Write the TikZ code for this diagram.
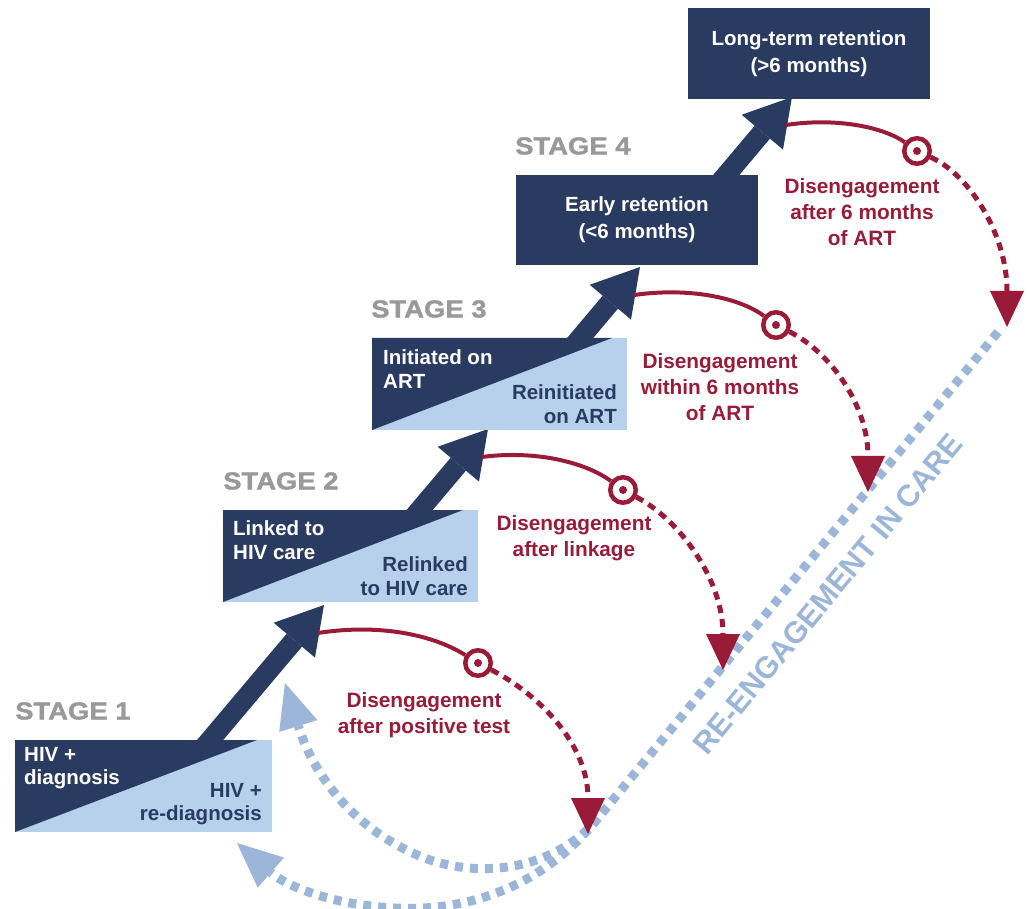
\documentclass[tikz,border=0pt]{standalone}
\usepackage{fontspec}
\setmainfont{Liberation Sans}
\newfontfamily\stagefont[FakeStretch=1.12,FakeBold=1.6]{Liberation Sans}
\usetikzlibrary{arrows.meta,calc}
\definecolor{navy}{HTML}{2A3B62}
\definecolor{lightbox}{HTML}{B7D0EC}
\definecolor{dred}{HTML}{9A1B38}
\definecolor{stagegray}{HTML}{999999}
\definecolor{reblue}{HTML}{9BB6D9}
\tikzset{
  navyarrow/.style={draw=navy, line width=20pt, -{Triangle[length=46pt,width=54pt,line width=0pt]}},
  splitbox/.style={fill=lightbox, inner sep=0pt, outer sep=0pt, anchor=north west},
  darkbox/.style={fill=navy, text=white, inner sep=0pt, outer sep=0pt, anchor=north west, align=center,
    font=\fontsize{20.5}{27}\selectfont\bfseries},
  whitetxt/.style={text=white, inner sep=0pt, align=left, anchor=west, font=\fontsize{20.5}{23.5}\selectfont\bfseries},
  navytxt/.style={text=navy, inner sep=0pt, align=right, anchor=east, font=\fontsize{20.5}{23.5}\selectfont\bfseries},
  stagelbl/.style={text=stagegray, inner sep=0pt, anchor=west, font=\fontsize{24.5}{28}\selectfont\stagefont\bfseries},
  redtxt/.style={text=dred, inner sep=0pt, align=center, font=\fontsize{20.8}{26}\selectfont\bfseries},
  ring/.style={circle, draw=dred, line width=4.5pt, fill=white, minimum size=25.5pt, inner sep=0pt},
  solidred/.style={draw=dred, line width=4pt},
  dashred/.style={draw=dred, line width=5pt, dash pattern=on 8pt off 6pt,
    -{Triangle[length=36pt,width=34pt,line width=0pt]}},
  bluedot/.style={draw=reblue, line width=9pt, dash pattern=on 8pt off 7pt},
  bluetip/.style={bluedot, -{Triangle[length=45pt,width=40pt,line width=0pt]}},
  bluetxt/.style={text=reblue, inner sep=0pt, font=\fontsize{30.5}{34}\selectfont\bfseries}
}
\begin{document}
\begin{tikzpicture}[x=1pt,y=-1pt]
\useasboundingbox (0,0) rectangle (1029,909);

% ---- re-engagement dotted paths ----
\coordinate (rtop) at (998,332);
\coordinate (rjoin) at (598,818);
\coordinate (rtip1) at (237,843);
\coordinate (rtip2) at (285,683);
\draw[bluedot] (rtop) -- (rjoin);
\draw[bluetip] (rjoin) .. controls (545,885) and (470,912) .. (395,908)
               .. controls (330,905) and (285,885) .. (rtip1);
\draw[bluetip] (rjoin) .. controls (560,865) and (490,880) .. (430,860)
               .. controls (360,835) and (315,780) .. (rtip2);
\node[bluetxt, rotate=50.5] (reeng) at (828,594) {RE-ENGAGEMENT IN CARE};

% ---- navy arrows ----
\coordinate (a1s) at (197.5,755); \coordinate (a1t) at (324,605);
\coordinate (a2s) at (407,525);   \coordinate (a2t) at (488,429);
\coordinate (a3s) at (567.5,353); \coordinate (a3t) at (640,267);
\coordinate (a4s) at (713.6,190); \coordinate (a4t) at (792,97);
\draw[navyarrow] (a1s) -- (a1t);
\draw[navyarrow] (a2s) -- (a2t);
\draw[navyarrow] (a3s) -- (a3t);
\draw[navyarrow] (a4s) -- (a4t);

% ---- boxes ----
\node[splitbox, minimum width=257pt, minimum height=92pt] (b1) at (15,740) {};
\fill[navy] (b1.north west) -- ($(b1.north west)+(242,0)$) -- (b1.south west) -- cycle;
\node[splitbox, minimum width=255pt, minimum height=92pt] (b2) at (223,510) {};
\fill[navy] (b2.north west) -- ($(b2.north west)+(240,0)$) -- (b2.south west) -- cycle;
\node[splitbox, minimum width=255pt, minimum height=92pt] (b3) at (372,338) {};
\fill[navy] (b3.north west) -- ($(b3.north west)+(240,0)$) -- (b3.south west) -- cycle;
\node[darkbox, minimum width=242pt, minimum height=90pt] (b4) at (516,175) {Early retention\\(<6 months)};
\node[darkbox, minimum width=242pt, minimum height=91pt] (b5) at (688,8) {Long-term retention\\(>6 months)};

\node[whitetxt] (b1a) at (24,768) {HIV +\\diagnosis};
\node[navytxt] (b1b) at (262,804) {HIV +\\re-diagnosis};
\node[whitetxt] (b2a) at (233,540) {Linked to\\HIV care};
\node[navytxt] (b2b) at (468,576) {Relinked\\to HIV care};
\node[whitetxt] (b3a) at (383,369) {Initiated on\\ART};
\node[navytxt] (b3b) at (617,404) {Reinitiated\\on ART};

% ---- stage labels ----
\node[stagelbl] (st1) at (15,711) {STAGE 1};
\node[stagelbl] (st2) at (223,481) {STAGE 2};
\node[stagelbl] (st3) at (371,309) {STAGE 3};
\node[stagelbl] (st4) at (515,146) {STAGE 4};

% ---- disengagement curves ----
\node[ring] (c1) at (478,663) {};
\node[ring] (c2) at (623,490) {};
\node[ring] (c3) at (776,325) {};
\node[ring] (c4) at (917,151) {};
\foreach \c in {c1,c2,c3,c4} \fill[dred] (\c) circle (4pt);

\coordinate (r1s) at (318,633); \coordinate (r1t) at (588,834);
\coordinate (r2s) at (482,457); \coordinate (r2t) at (723,670);
\coordinate (r3s) at (634,295); \coordinate (r3t) at (868,492);
\coordinate (r4s) at (786,125); \coordinate (r4t) at (1007,327);

\draw[solidred] (r1s) .. controls (375,624) and (430,633) .. (c1);
\draw[solidred] (r2s) .. controls (535,450) and (585,462) .. (c2);
\draw[solidred] (r3s) .. controls (690,287) and (740,298) .. (c3);
\draw[solidred] (r4s) .. controls (838,117) and (885,128) .. (c4);

\draw[dashred] (c1) .. controls (540,695) and (588,745) .. (r1t);
\draw[dashred] (c2) .. controls (680,520) and (723,580) .. (r2t);
\draw[dashred] (c3) .. controls (830,352) and (868,405) .. (r3t);
\draw[dashred] (c4) .. controls (970,175) and (1007,235) .. (r4t);

\node[redtxt] (d1) at (424,715) {Disengagement\\after positive test};
\node[redtxt] (d2) at (574,538) {Disengagement\\after linkage};
\node[redtxt] (d3) at (720,387) {Disengagement\\within 6 months\\of ART};
\node[redtxt] (d4) at (862,212) {Disengagement\\after 6 months\\of ART};
\end{tikzpicture}
\end{document}
